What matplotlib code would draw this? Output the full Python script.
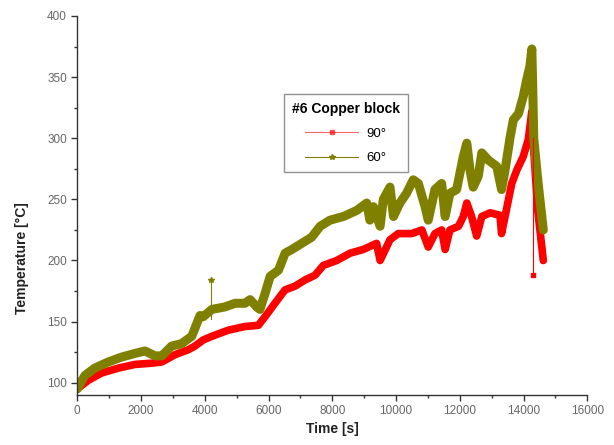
import matplotlib
matplotlib.use("Agg")
import matplotlib.pyplot as plt
from matplotlib.lines import Line2D
from matplotlib.ticker import MultipleLocator

plt.rcParams["font.family"] = ["Liberation Sans", "DejaVu Sans"]

# 60 deg series
t60 = [0, 240, 550, 970, 1390, 1810, 2120, 2440, 2650, 2960, 3270, 3590, 3850, 3950,
       4220, 4630, 4950, 5260, 5420, 5630, 5730, 5890, 6050, 6310, 6520, 6730, 7040,
       7350, 7620, 7930, 8350, 8770, 9080, 9180, 9290, 9500, 9600, 9810, 9920, 10120,
       10330, 10540, 10700, 10910, 11010, 11220, 11430, 11540, 11690, 11900, 12110,
       12220, 12320, 12420, 12580, 12690, 12900, 13160, 13310, 13420, 13580, 13680,
       13840, 13990, 14100, 14200, 14260, 14290, 14320, 14450, 14620]
T60 = [95, 106, 112, 117, 121, 124, 126, 122, 122, 130, 132, 138, 155, 154,
       160, 162, 165, 165, 168, 162, 160, 173, 187, 192, 206, 209, 214,
       219, 228, 233, 236, 241, 247, 233, 244, 228, 250, 260, 236, 247,
       255, 266, 263, 244, 233, 258, 263, 236, 255, 258, 285,
       296, 274, 260, 269, 288, 282, 277, 258, 274, 301, 315,
       320, 334, 348, 359, 373, 340, 300, 265, 225]

# 90 deg series
t90 = [0, 345, 765, 1290, 1810, 2330, 2650, 3070, 3480, 3690, 3950, 4220, 4740, 5260,
       5680, 5890, 6200, 6520, 6830, 7140, 7460, 7720, 8140, 8560, 8970, 9390, 9500,
       9810, 10070, 10490, 10810, 11010, 11220, 11430, 11540, 11690, 11960, 12110,
       12220, 12370, 12530, 12690, 12950, 13260, 13310, 13420, 13630, 13790, 13990,
       14150, 14260, 14320, 14450, 14620]
T90 = [95, 102, 108, 112, 115, 116, 117, 123, 127, 130, 135, 138, 143, 146,
       147, 154, 165, 176, 179, 184, 188, 196, 200, 206, 209, 214, 200,
       217, 222, 222, 225, 211, 222, 225, 209, 225, 228, 236,
       247, 236, 220, 236, 239, 237, 222, 236, 263, 274, 285,
       299, 322, 290, 240, 200]

# single outliers
spike60_t = [4180, 4180]
spike60_T = [152, 184]
spike90_t = [14290, 14290]
spike90_T = [300, 188]

RED = "#ff0000"
OLIVE = "#808000"

fig = plt.figure(figsize=(6.14, 4.45), dpi=100)
ax = fig.add_axes([0.1259, 0.1124, 0.8306, 0.8517])

ax.plot(t90, T90, color=RED, lw=5.5, solid_joinstyle="round", solid_capstyle="round")
ax.plot(t60, T60, color=OLIVE, lw=6.5, solid_joinstyle="round", solid_capstyle="round")
ax.plot(spike60_t, spike60_T, color=OLIVE, lw=0.8)
ax.plot(spike60_t[-1:], spike60_T[-1:], color=OLIVE, marker="*", ms=4, ls="none")
ax.plot(spike90_t, spike90_T, color=RED, lw=0.8)
ax.plot(spike90_t[-1:], spike90_T[-1:], color=RED, marker="s", ms=3, ls="none")

ax.set_xlim(0, 16000)
ax.set_ylim(90, 400)
ax.xaxis.set_major_locator(MultipleLocator(2000))
ax.xaxis.set_minor_locator(MultipleLocator(1000))
ax.set_yticks([100, 150, 200, 250, 300, 350, 400])
ax.yaxis.set_minor_locator(MultipleLocator(25))

for s in ["top", "right"]:
    ax.spines[s].set_visible(False)
for s in ["left", "bottom"]:
    ax.spines[s].set_linewidth(1.0)
    ax.spines[s].set_color("#333333")
ax.tick_params(which="major", direction="out", length=4, width=1, labelsize=8.5,
               colors="#333333", labelcolor="#666666")
ax.tick_params(which="minor", direction="out", length=2.5, width=1, colors="#333333")

ax.set_xlabel("Time [s]", fontsize=10, fontweight="bold", color="#222222", labelpad=3)
ax.set_ylabel("Temperature [°C]", fontsize=10, fontweight="bold", color="#222222")
ax.yaxis.set_label_coords(-0.095, 0.36)

handles = [
    Line2D([], [], color=RED, lw=0.8, marker="s", ms=2.5, alpha=0.6, markerfacecolor=RED),
    Line2D([], [], color=OLIVE, lw=0.8, marker="*", ms=4),
]
leg = ax.legend(handles, ["90°", "60°"], title="#6 Copper block",
                loc="upper left", bbox_to_anchor=(0.405, 0.794), borderaxespad=0,
                fontsize=9.5, title_fontproperties={"weight": "bold", "size": 10},
                handlelength=4, fancybox=False, frameon=True, borderpad=0.6,
                labelspacing=0.9, handletextpad=0.6)
leg.get_frame().set_edgecolor("#777777")
leg.get_frame().set_linewidth(1.0)

fig.savefig("out.png", dpi=100)
